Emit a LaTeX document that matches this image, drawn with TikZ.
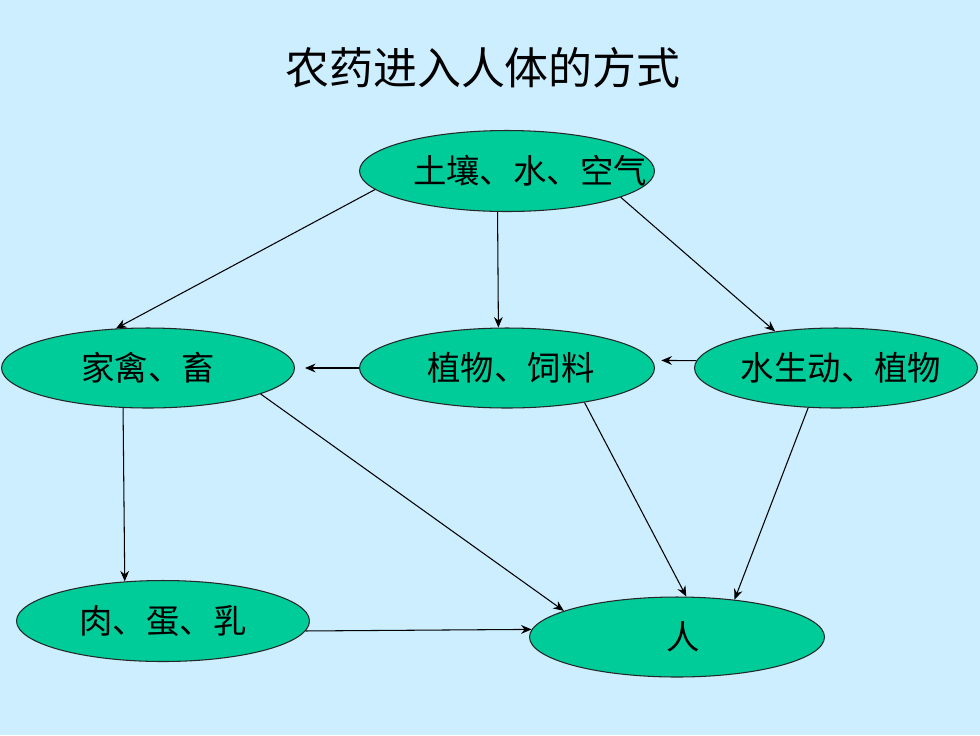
\documentclass[tikz,border=0pt]{standalone}
\usepackage{fontspec}
\setmainfont{Noto Sans CJK SC}
\usetikzlibrary{shapes.geometric,arrows.meta}
\definecolor{slidebg}{HTML}{CCEEFF}
\definecolor{leafgreen}{HTML}{00CC99}
\newcommand{\slimtext}[1]{\makebox[0pt]{#1}}
\begin{document}
\begin{tikzpicture}[x=0.02cm,y=-0.02cm,src/.style={ellipse,draw=black!85,line width=0.6pt,fill=leafgreen,minimum width=5.9cm,minimum height=1.62cm,inner sep=0pt,font=\fontsize{19}{19}\selectfont},>={Stealth[length=6pt,width=5pt]},flow/.style={->,line width=0.6pt}]
\useasboundingbox (0,0) rectangle (980,735);
\fill[slidebg] (0,0) rectangle (980,735);
\node (title) at (483,68) {\fontsize{25}{25}\selectfont 农药进入人体的方式};
\node[src] (soil) at (507,171) {\slimtext{\hspace*{0.92cm}土壤、水、空气}};
\node[src,minimum width=5.86cm,minimum height=1.6cm] (poultry) at (148,368) {\slimtext{家禽、畜}};
\node[src,minimum height=1.6cm] (plant) at (507,368) {\slimtext{\hspace*{0.16cm}植物、饲料}};
\node[src,minimum width=5.66cm,minimum height=1.6cm] (aqua) at (836,368) {\slimtext{\hspace*{0.2cm}水生动、植物}};
\node[src,minimum width=5.86cm] (meat) at (163,621) {\slimtext{肉、蛋、乳}};
\node[src,minimum height=1.6cm] (human) at (677,637) {\slimtext{\hspace*{0.24cm}人}};
\draw[flow] (soil.188) -- (poultry.129);
\draw[flow] (soil.257.6) -- (plant.102.4);
\draw[flow] (soil.347.3) -- (aqua.149.7);
\draw[flow,shorten >=0.2cm] (plant.west) -- (poultry.east);
\draw[flow] (aqua.177) -- ([xshift=0.18cm]plant.3);
\draw[flow] (poultry.238) -- (meat.134.3);
\draw[flow] (poultry.347.6) -- (human.167.4);
\draw[flow] (plant.336.3) -- (human.77.3);
\draw[flow] (aqua.235) -- (human.33.7);
\draw[flow] (meat.356.5) -- (human.177);
\end{tikzpicture}
\end{document}
